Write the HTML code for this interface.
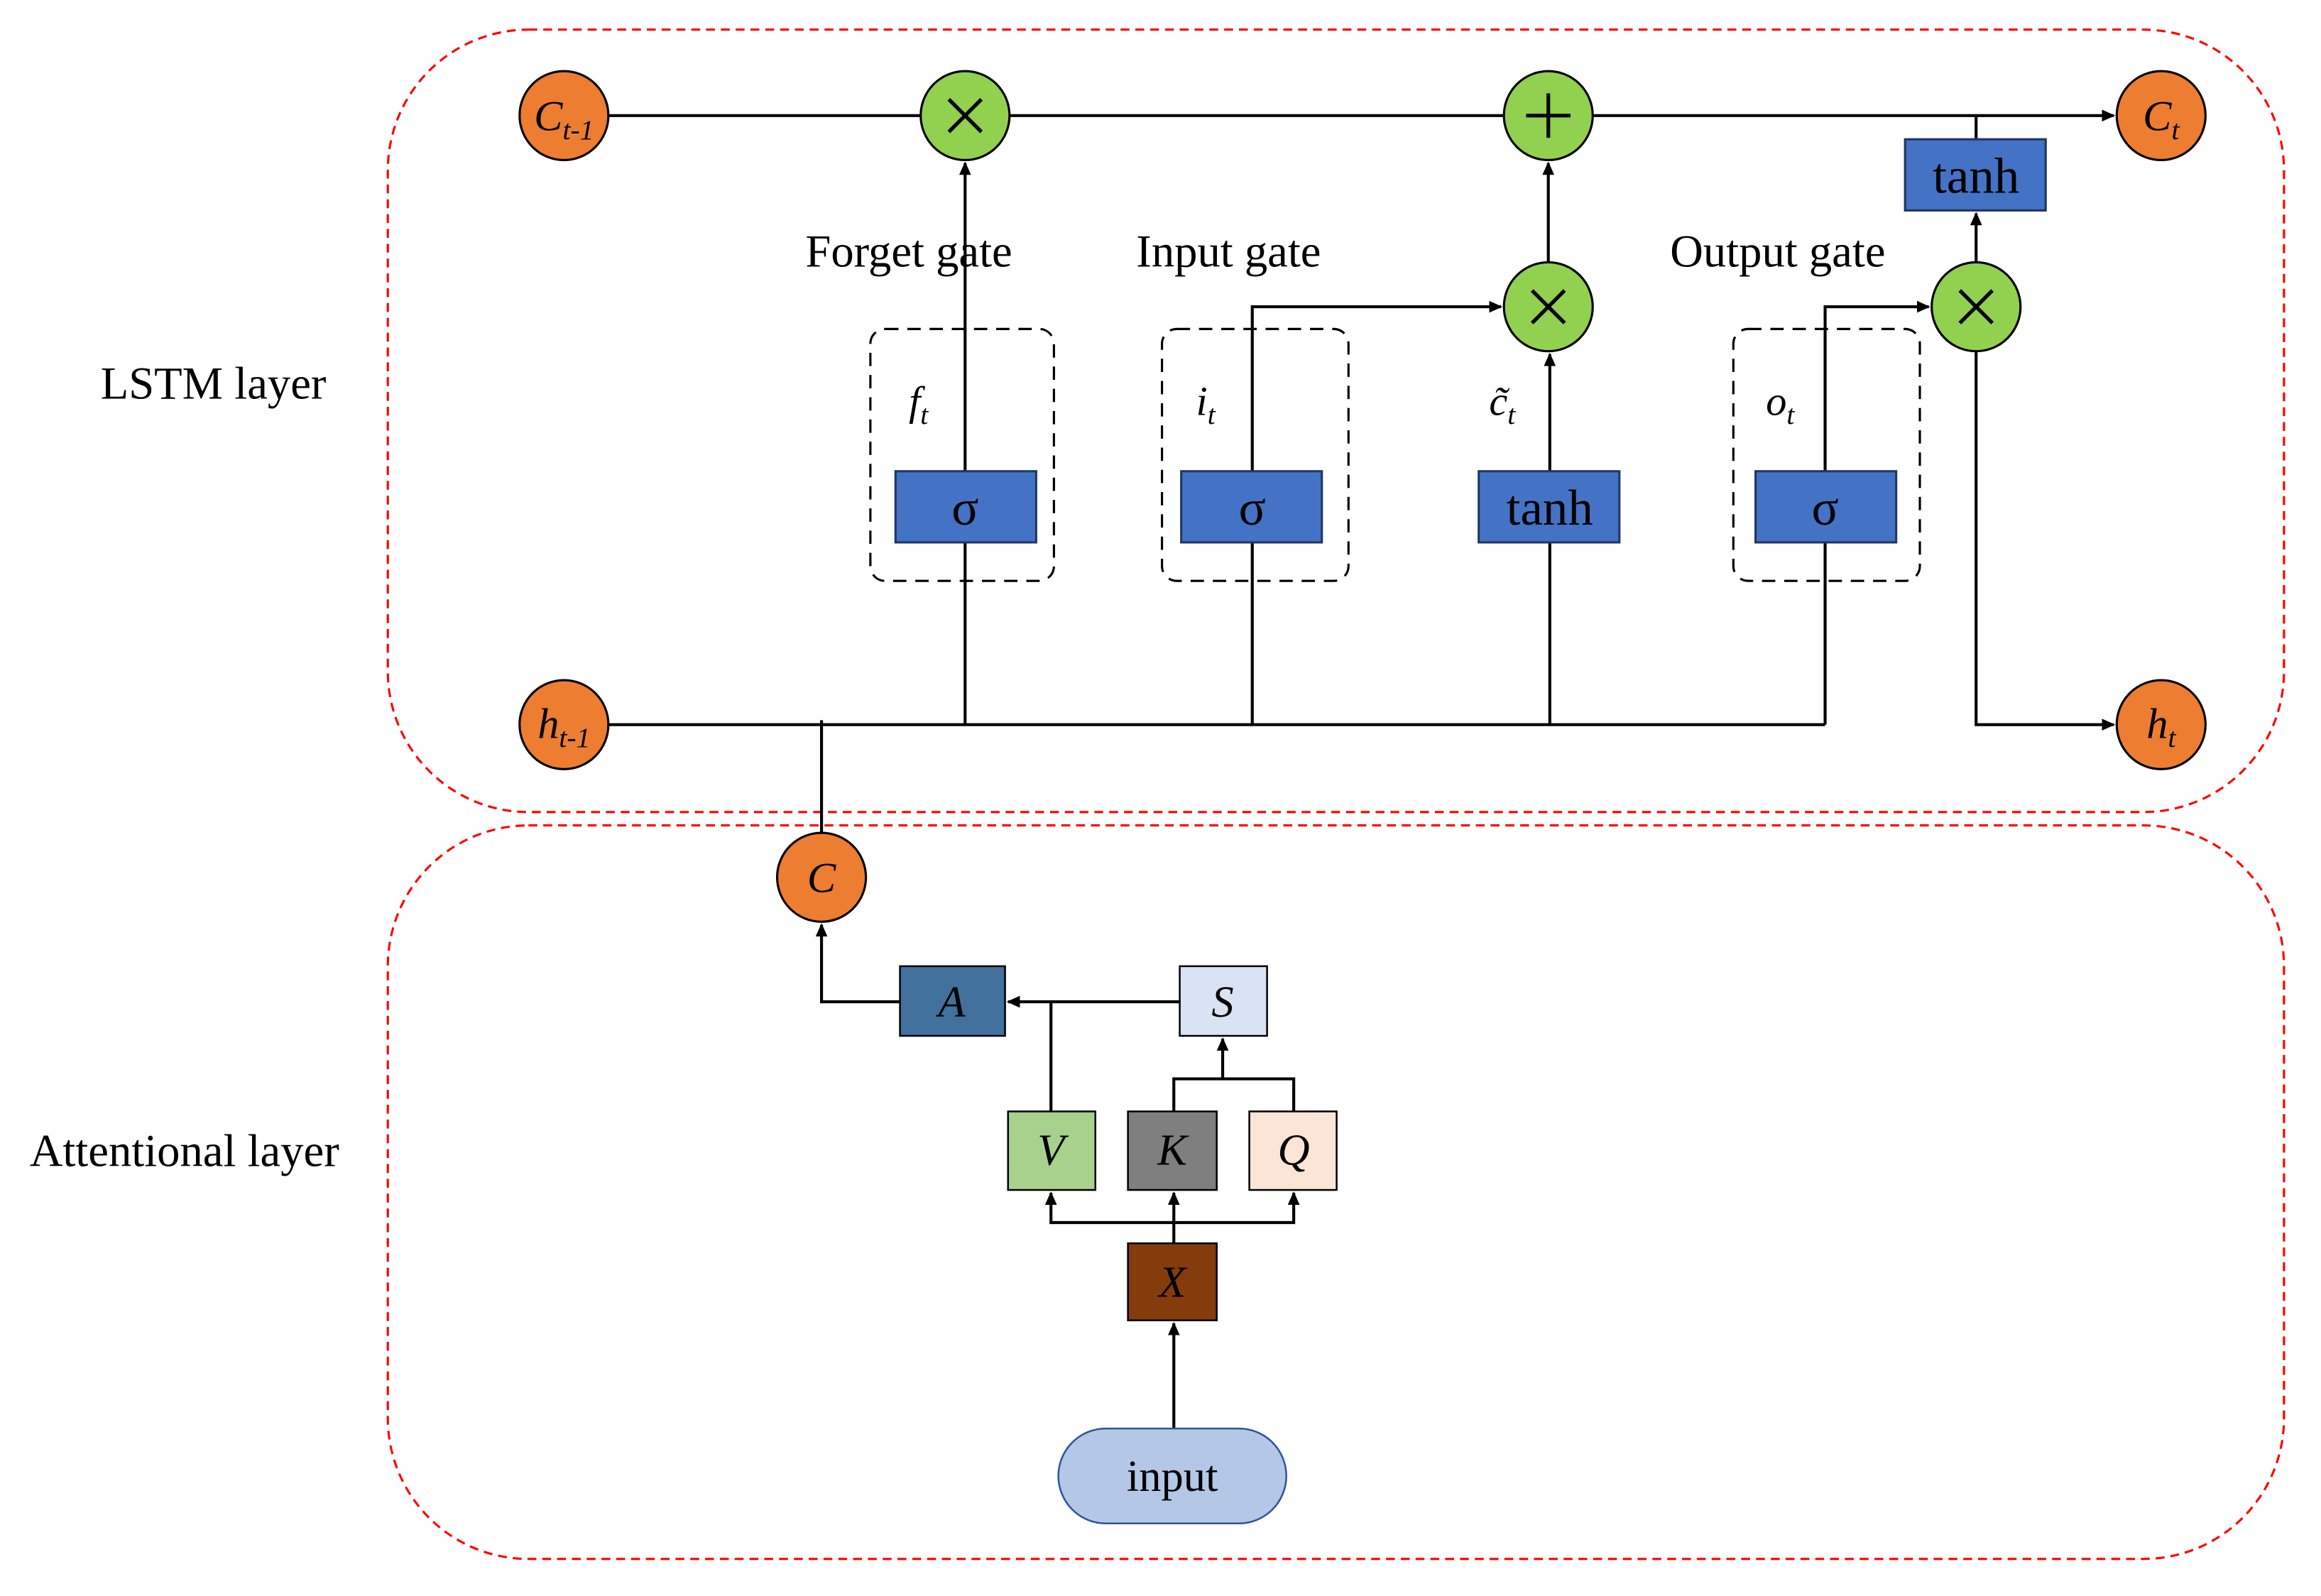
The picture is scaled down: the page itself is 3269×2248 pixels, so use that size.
<!DOCTYPE html>
<html><head><meta charset="utf-8"><style>
html,body{margin:0;padding:0;background:#fff;}
svg{display:block;}
text{font-family:"Liberation Serif",serif;}
</style></head><body>
<svg width="3269" height="2248" viewBox="0 0 1568 1077" preserveAspectRatio="none" xmlns="http://www.w3.org/2000/svg">
<defs>
<marker id="a" markerWidth="10" markerHeight="10" refX="8" refY="4" orient="auto" markerUnits="userSpaceOnUse"><path d="M0,0 L9,4 L0,8 z" fill="#000"/></marker>
</defs>
<rect x="262" y="20" width="1281" height="528" rx="95" fill="none" stroke="#f00" stroke-width="1.5" stroke-dasharray="6,4"/>
<rect x="262" y="557" width="1281" height="495" rx="95" fill="none" stroke="#f00" stroke-width="1.5" stroke-dasharray="6,4"/>
<text x="68" y="269" font-size="31">LSTM layer</text>
<text x="20" y="787" font-size="31">Attentional layer</text>
<g font-size="31" text-anchor="middle">
<text x="614" y="180">Forget gate</text>
<text x="830" y="180">Input gate</text>
<text x="1201" y="180">Output gate</text>
</g>
<g fill="none" stroke="#000" stroke-width="1.5" stroke-dasharray="9,6">
<rect x="588" y="222" width="124" height="170" rx="10"/>
<rect x="785" y="222" width="126" height="170" rx="10"/>
<rect x="1171" y="222" width="126" height="170" rx="10"/>
</g>
<g stroke="#000" stroke-width="2" fill="none">
<line x1="411" y1="78" x2="1428" y2="78" marker-end="url(#a)"/>
<line x1="1335" y1="78" x2="1335" y2="94"/>
<line x1="1335" y1="177" x2="1335" y2="144" marker-end="url(#a)"/>
<line x1="411" y1="489" x2="1233" y2="489"/>
<line x1="652" y1="489" x2="652" y2="366"/>
<line x1="846" y1="489" x2="846" y2="366"/>
<line x1="1047" y1="489" x2="1047" y2="366"/>
<line x1="1233" y1="489" x2="1233" y2="366"/>
<line x1="652" y1="318" x2="652" y2="110" marker-end="url(#a)"/>
<polyline points="846,318 846,207 1014,207" marker-end="url(#a)"/>
<line x1="1047" y1="318" x2="1047" y2="239" marker-end="url(#a)"/>
<line x1="1046" y1="177" x2="1046" y2="110" marker-end="url(#a)"/>
<polyline points="1233,318 1233,207 1303,207" marker-end="url(#a)"/>
<polyline points="1335,237 1335,489 1428,489" marker-end="url(#a)"/>
<line x1="555" y1="486" x2="555" y2="562"/>
<polyline points="608,676 555,676 555,624" marker-end="url(#a)"/>
<line x1="797" y1="676" x2="681" y2="676" marker-end="url(#a)"/>
<line x1="710" y1="750" x2="710" y2="676"/>
<polyline points="793,750 793,728 874,728 874,750"/>
<line x1="826" y1="728" x2="826" y2="701" marker-end="url(#a)"/>
<line x1="793" y1="839" x2="793" y2="805" marker-end="url(#a)"/>
<polyline points="793,825 710,825 710,805" marker-end="url(#a)"/>
<polyline points="793,825 874,825 874,805" marker-end="url(#a)"/>
<line x1="793" y1="964" x2="793" y2="893" marker-end="url(#a)"/>
</g>
<g fill="#4472C4" stroke="#1F3864" stroke-width="1.5">
<rect x="605" y="318" width="95" height="48"/>
<rect x="798" y="318" width="95" height="48"/>
<rect x="999" y="318" width="95" height="48"/>
<rect x="1186" y="318" width="95" height="48"/>
<rect x="1287" y="94" width="95" height="48"/>
</g>
<g font-size="34" text-anchor="middle">
<text x="652" y="354">σ</text>
<text x="846" y="354">σ</text>
<text x="1047" y="354">tanh</text>
<text x="1233" y="354">σ</text>
<text x="1335" y="130">tanh</text>
</g>
<g font-size="28" font-style="italic">
<text x="614" y="280">f<tspan font-size="19" dy="6">t</tspan></text>
<text x="808" y="280">i<tspan font-size="19" dy="6">t</tspan></text>
<text x="1006" y="280">c̃<tspan font-size="19" dy="6">t</tspan></text>
<text x="1193" y="280">o<tspan font-size="19" dy="6">t</tspan></text>
</g>
<g stroke="#000" stroke-width="1.5">
<circle cx="381" cy="78" r="30" fill="#ED7D31"/>
<circle cx="1460" cy="78" r="30" fill="#ED7D31"/>
<circle cx="381" cy="489" r="30" fill="#ED7D31"/>
<circle cx="1460" cy="489" r="30" fill="#ED7D31"/>
<circle cx="555" cy="592" r="30" fill="#ED7D31"/>
<circle cx="652" cy="78" r="30" fill="#92D050"/>
<circle cx="1046" cy="78" r="30" fill="#92D050"/>
<circle cx="1046" cy="207" r="30" fill="#92D050"/>
<circle cx="1335" cy="207" r="30" fill="#92D050"/>
</g>
<g stroke="#000" stroke-width="2.5">
<path d="M641,67 L663,89 M663,67 L641,89"/>
<path d="M1035,196 L1057,218 M1057,196 L1035,218"/>
<path d="M1324,196 L1346,218 M1346,196 L1324,218"/>
<path d="M1046,63 L1046,93 M1031,78 L1061,78"/>
</g>
<g font-size="29" font-style="italic" text-anchor="middle">
<text x="381" y="88">C<tspan font-size="19" dy="6">t-1</tspan></text>
<text x="1460" y="88">C<tspan font-size="19" dy="6">t</tspan></text>
<text x="381" y="498">h<tspan font-size="19" dy="6">t-1</tspan></text>
<text x="1460" y="498">h<tspan font-size="19" dy="6">t</tspan></text>
<text x="555" y="602">C</text>
</g>
<g stroke="#000" stroke-width="1.2">
<rect x="608" y="652" width="71" height="47" fill="#41719C"/>
<rect x="797" y="652" width="59" height="47" fill="#DAE3F3"/>
<rect x="681" y="750" width="59" height="53" fill="#A9D18E"/>
<rect x="762" y="750" width="60" height="53" fill="#7F7F7F"/>
<rect x="844" y="750" width="59" height="53" fill="#FBE5D6"/>
<rect x="762" y="839" width="60" height="52" fill="#843C0C"/>
</g>
<rect x="715" y="964" width="154" height="64" rx="32" fill="#B4C7E7" stroke="#2F5597" stroke-width="1.2"/>
<g font-size="30" font-style="italic" text-anchor="middle">
<text x="643" y="686">A</text>
<text x="826" y="686">S</text>
<text x="710" y="786">V</text>
<text x="792" y="786">K</text>
<text x="874" y="786">Q</text>
<text x="792" y="875">X</text>
</g>
<text x="792" y="1006" font-size="30" text-anchor="middle">input</text>
</svg>
</body></html>
